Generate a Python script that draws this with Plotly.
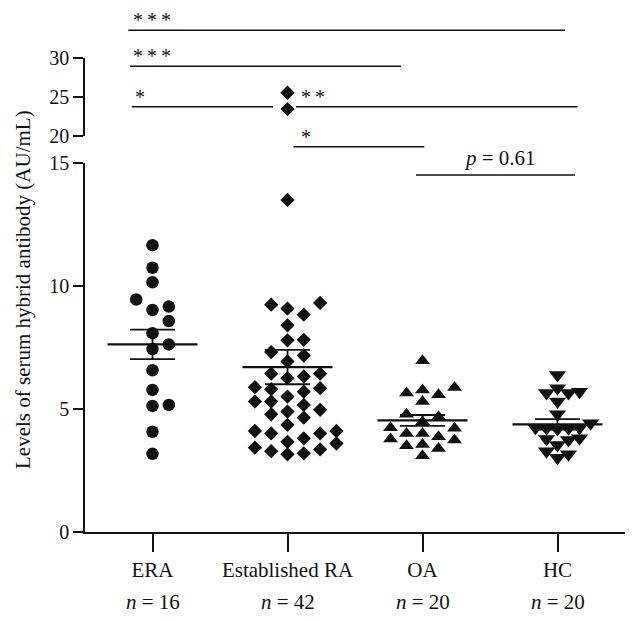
import numpy as np
import plotly.graph_objects as go

# ---------------- data ----------------
categories = ["ERA", "Established RA", "OA", "HC"]
n_labels = ["16", "42", "20", "20"]

era = [11.67, 10.75, 10.16, 9.17, 9.03, 9.46, 8.58, 8.09, 7.63, 7.44,
       6.58, 5.78, 5.13, 5.17, 4.08, 3.18]
established_ra = [25.55, 23.44, 13.51,
                  9.32, 9.09, 8.84, 9.25, 8.41, 7.80, 7.82, 7.18, 7.32, 6.94,
                  6.44, 6.26, 6.33, 6.44, 5.85, 5.71, 5.89, 5.81, 5.31, 5.51,
                  5.31, 5.17, 4.90, 4.65, 4.79, 4.97, 4.36, 4.11, 4.01, 4.01,
                  3.67, 4.11, 3.81, 3.60, 3.43, 3.29, 3.16, 3.20, 3.36]
oa = [6.97, 5.88, 5.65, 5.31, 5.58, 5.78, 4.79, 4.69, 4.49, 4.22,
      3.74, 4.01, 3.51, 3.88, 3.78, 4.01, 4.24, 3.56, 3.40, 3.10]
hc = [6.39, 5.85, 5.65, 5.71, 5.65, 5.31, 4.79, 4.42, 4.22, 4.24,
      4.22, 4.24, 4.19, 3.81, 3.74, 3.54, 3.78, 3.29, 3.16, 3.02]

means = [7.63, 6.71, 4.54, 4.38]
sems = [0.60, 0.70, 0.22, 0.21]

lower_ticks = [0, 5, 10, 15]
upper_ticks = [20, 25, 30]

TS = "\u2009"
# significance brackets: (label, x-start px, x-end px, line y px, label x px, label y px)
brackets = [
    ("*" + TS + "*" + TS + "*", 128.3, 565.0, 30.3, 131, 20),
    ("*" + TS + "*" + TS + "*", 130.0, 401.0, 66.3, 131, 56),
    ("*", 131.7, 273.0, 106.7, 133, 97),
    ("*" + TS + "*", 296.0, 577.7, 106.7, 299, 97),
    ("*", 293.3, 424.3, 146.7, 299, 137),
    ("<i>p</i> = 0.61", 416.0, 575.0, 175.0, 500, 158),
]

# ---------------- layout geometry (page pixels) ----------------
PAGE_W, PAGE_H = 639, 621
BODY = 8                       # default page margin around the figure
PLOT_L, PLOT_R, PLOT_B = 85, 625, 532
Y15PX, Y20PX, Y30PX = 163.3, 135.7, 58.3
PLOT_T = 20
W, H = PAGE_W - BODY, PAGE_H - BODY
ML, MT = PLOT_L - BODY, PLOT_T - BODY
MR = W - (PLOT_R - BODY)
MB = H - (PLOT_B - BODY)
PW, PH = PLOT_R - PLOT_L, PLOT_B - PLOT_T
dom_low = [0, (PLOT_B - Y15PX) / PH]
dom_up = [(PLOT_B - Y20PX) / PH, (PLOT_B - Y30PX) / PH]
px_per_cat = PW / 4.0
px_per_unit_low = (PLOT_B - Y15PX) / 15.0
px_per_unit_up = (Y20PX - Y30PX) / 10.0


def px2x(px):
    return (px - PLOT_L) / PW


def px2y(py):
    return (PLOT_B - py) / PH


def swarm(values, step_px, min_dist, ppu):
    """Greedy beeswarm: horizontal offsets (category units) computed from values."""
    vals = np.asarray(values, dtype=float)
    order = np.argsort(vals, kind="stable")
    placed = []
    offs = np.zeros(len(vals))
    cands = [0]
    for k in range(1, 8):
        cands += [k, -k]
    for i in order:
        y = vals[i] * ppu
        x = 0.0
        for c in cands:
            x = c * step_px
            if all((x - a) ** 2 + (y - b) ** 2 >= min_dist ** 2 for a, b in placed):
                break
        placed.append((x, y))
        offs[i] = x / px_per_cat
    return offs


INK = "#111111"
FONT = "Liberation Serif"

groups = [
    (era, "circle", 12.5, 16.3, 12.5),
    (established_ra, "diamond", 11, 16.3, 12.0),
    (oa, "triangle-up", 13, 16.0, 11.0),
    (hc, "triangle-down", 15, 11.0, 10.5),
]

fig = go.Figure()

for gi, (vals, sym, size, step, mind) in enumerate(groups):
    vals = np.asarray(vals, dtype=float)
    low = vals[vals <= 15]
    up = vals[vals >= 20]
    if len(low):
        off = swarm(low, step, mind, px_per_unit_low)
        fig.add_trace(go.Scatter(x=gi + off, y=low, mode="markers", xaxis="x", yaxis="y",
                                 marker=dict(symbol=sym, size=size, color=INK, line=dict(width=0)),
                                 showlegend=False, hoverinfo="y"))
    if len(up):
        off = swarm(up, step, mind, px_per_unit_up)
        fig.add_trace(go.Scatter(x=gi + off, y=up, mode="markers", xaxis="x", yaxis="y2",
                                 marker=dict(symbol=sym, size=size, color=INK, line=dict(width=0)),
                                 showlegend=False, hoverinfo="y"))
    m, s = means[gi], sems[gi]
    hw, cw = 45 / px_per_cat, 22.5 / px_per_cat
    fig.add_trace(go.Scatter(x=[gi - hw, gi + hw], y=[m, m], mode="lines",
                             line=dict(color=INK, width=2.2), showlegend=False, hoverinfo="skip"))
    fig.add_trace(go.Scatter(x=[gi - cw, gi + cw, None, gi - cw, gi + cw, None, gi, gi],
                             y=[m + s, m + s, None, m - s, m - s, None, m - s, m + s],
                             mode="lines", line=dict(color=INK, width=1.8),
                             showlegend=False, hoverinfo="skip"))

shapes = []
annotations = []
for label, x0, x1, ly, tx, ty in brackets:
    shapes.append(dict(type="line", xref="paper", yref="paper",
                       x0=px2x(x0), x1=px2x(x1), y0=px2y(ly), y1=px2y(ly),
                       line=dict(color=INK, width=1.4)))
    is_p = label.startswith("<i>")
    annotations.append(dict(text=label, xref="paper", yref="paper",
                            x=px2x(tx), y=px2y(ty),
                            xanchor="center" if is_p else "left", yanchor="middle",
                            showarrow=False,
                            font=dict(family=FONT, size=21 if is_p else 20, color=INK)))

for gi, n in enumerate(n_labels):
    annotations.append(dict(text="<i>n</i> = " + n, xref="x", yref="paper", x=gi,
                            y=px2y(602), xanchor="center", yanchor="middle", showarrow=False,
                            font=dict(family=FONT, size=21, color=INK)))

annotations.append(dict(text="Levels of serum hybrid antibody (AU/mL)", xref="paper", yref="paper",
                        x=px2x(23), y=px2y(290), textangle=-90, xanchor="center", yanchor="middle",
                        showarrow=False, font=dict(family=FONT, size=21, color=INK)))

axis_common = dict(showgrid=False, zeroline=False, showline=True, linecolor=INK, linewidth=1.5,
                   ticks="outside", tickcolor=INK, tickwidth=1.5,
                   tickfont=dict(family=FONT, size=20, color=INK))

fig.update_layout(
    width=W, height=H,
    margin=dict(l=ML, r=MR, t=MT, b=MB, autoexpand=False),
    paper_bgcolor="white", plot_bgcolor="white",
    xaxis=dict(range=[-0.5, 3.5], tickvals=list(range(len(categories))), ticktext=categories,
               anchor="y", showgrid=False, zeroline=False, showline=True, linecolor=INK,
               linewidth=1.5, ticks="outside", ticklen=18, tickcolor=INK, tickwidth=1.5,
               tickfont=dict(family=FONT, size=21, color=INK)),
    yaxis=dict(domain=dom_low, range=[0, 15], tickvals=lower_ticks, ticklen=10, anchor="x",
               **axis_common),
    yaxis2=dict(domain=dom_up, range=[20, 30], tickvals=upper_ticks, ticklen=10, anchor="x",
                **axis_common),
    shapes=shapes,
    annotations=annotations,
    showlegend=False,
)

fig.write_html("out.html")
